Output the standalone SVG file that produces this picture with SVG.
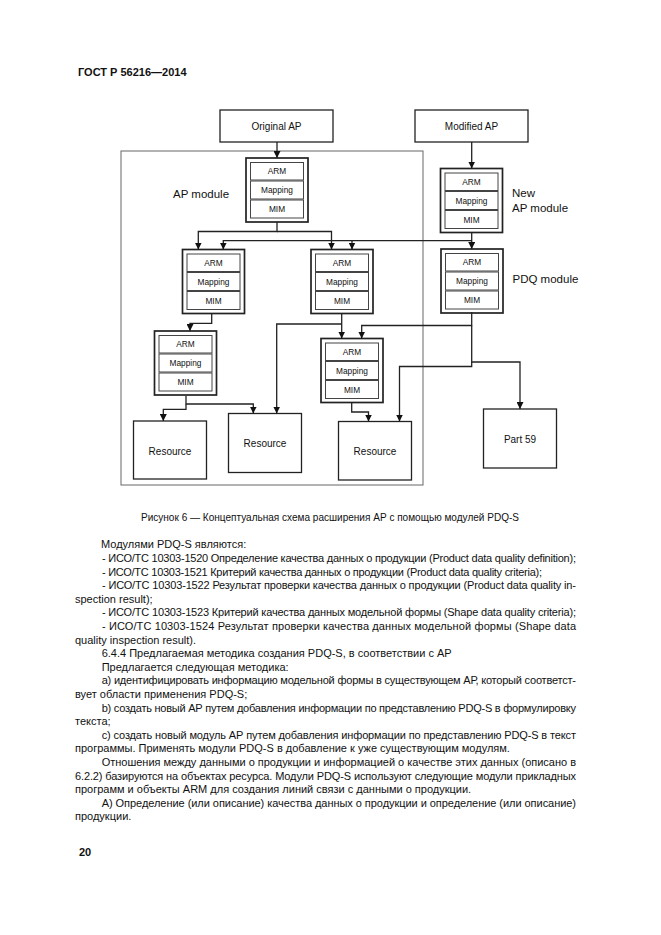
<svg xmlns="http://www.w3.org/2000/svg" width="661" height="935" viewBox="0 0 661 935">
<style>
text{font-family:"Liberation Sans",Arial,sans-serif;fill:#111}
.hd{font-size:11px;font-weight:bold}
.bt{font-size:11px}
.box{fill:#fff;stroke:#222;stroke-width:1.3}
.mod{fill:#fff;stroke:#222;stroke-width:1.7}
.in{fill:#fff;stroke:#444;stroke-width:1}
.frame{fill:none;stroke:#666;stroke-width:1}
.lbl{font-size:10px;text-anchor:middle}
.sm{font-size:8.3px;text-anchor:middle}
.big{font-size:11.5px}
.con{fill:none;stroke:#222;stroke-width:1.3}
</style>
<defs>
<marker id="ah" viewBox="0 0 10 10" refX="10" refY="5" markerWidth="7" markerHeight="7" markerUnits="userSpaceOnUse" orient="auto">
<path d="M0,0 L10,5 L0,10 z" fill="#111"/>
</marker>
<g id="modtpl">
<rect class="mod" x="0" y="0" width="62" height="64"/>
<rect class="in" x="4.5" y="4.5" width="53" height="17.5"/>
<rect class="in" x="4.5" y="23" width="53" height="18"/>
<rect class="in" x="4.5" y="42" width="53" height="18"/>
<text class="sm" x="31" y="16.2">ARM</text>
<text class="sm" x="31" y="35">Mapping</text>
<text class="sm" x="31" y="54">MIM</text>
</g>
</defs>
<rect width="661" height="935" fill="#fff"/>
<text class="hd" x="78" y="76">ГОСТ Р 56216—2014</text>

<rect id="frame" class="frame" x="121" y="151" width="302" height="334"/>

<g id="original-ap"><rect class="box" x="220" y="110" width="113" height="32"/><text class="lbl" x="276.5" y="130">Original AP</text></g>
<g id="modified-ap"><rect class="box" x="415" y="110" width="113" height="32"/><text class="lbl" x="471.5" y="130">Modified AP</text></g>

<g id="ap-module"><use href="#modtpl" x="246" y="158"/><text class="big" x="173" y="197.5">AP module</text></g>
<g id="new-ap-module"><use href="#modtpl" x="440.5" y="168.5"/><text class="big" x="512" y="197">New</text><text class="big" x="512" y="211.5">AP module</text></g>
<g id="module-a"><use href="#modtpl" x="182.5" y="249.5"/></g>
<g id="module-b"><use href="#modtpl" x="311" y="249.5"/></g>
<g id="pdq-module"><use href="#modtpl" x="441" y="249"/><text class="big" x="512.5" y="282.5">PDQ module</text></g>
<g id="module-c"><use href="#modtpl" x="154.5" y="331"/></g>
<g id="module-d"><use href="#modtpl" x="321" y="338.5"/></g>

<g id="resource-1"><rect class="box" x="133.5" y="421" width="73" height="58"/><text class="lbl" x="170" y="454.5">Resource</text></g>
<g id="resource-2"><rect class="box" x="228.5" y="413.5" width="73" height="59"/><text class="lbl" x="265" y="447">Resource</text></g>
<g id="resource-3"><rect class="box" x="338.5" y="421.5" width="73" height="58.5"/><text class="lbl" x="375" y="455">Resource</text></g>
<g id="part-59"><rect class="box" x="483.5" y="409" width="73" height="59"/><text class="lbl" x="520" y="442.5">Part 59</text></g>

<g id="connectors">
<path class="con" marker-end="url(#ah)" d="M277,142 V158"/>
<path class="con" marker-end="url(#ah)" d="M471.7,142 V168.5"/>
<path class="con" marker-end="url(#ah)" d="M277,222 V231.5 H198.3 V249.5"/>
<path class="con" marker-end="url(#ah)" d="M277,231.5 H331.5 V249.5"/>
<path class="con" marker-end="url(#ah)" d="M471.7,232.5 V249"/>
<path class="con" marker-end="url(#ah)" d="M471.7,240.7 H223.3 V249.5"/>
<path class="con" marker-end="url(#ah)" d="M352,240.7 V249.5"/>
<path class="con" marker-end="url(#ah)" d="M211.7,313.5 V323.3 H190 V331"/>
<path class="con" marker-end="url(#ah)" d="M341.7,313.5 V338.5"/>
<path class="con" marker-end="url(#ah)" d="M341.7,324 H276.7 V413.5"/>
<path class="con" marker-end="url(#ah)" d="M471.7,312 V325.5 H361.7 V338.5"/>
<path class="con" marker-end="url(#ah)" d="M471.7,325.5 V362 H520 V409"/>
<path class="con" marker-end="url(#ah)" d="M471.7,362 V366.5 H399.5 V421.5"/>
<path class="con" marker-end="url(#ah)" d="M186,396 V404 H253.3 V413.5"/>
<path class="con" marker-end="url(#ah)" d="M186,404 V409.3 H163.3 V421"/>
<path class="con" marker-end="url(#ah)" d="M351.7,402.5 V412 H368.5 V421.5"/>
</g>

<text class="bt" x="141" y="521" textLength="378" lengthAdjust="spacingAndGlyphs">Рисунок 6 — Концептуальная схема расширения АР с помощью модулей PDQ-S</text>

<g id="body">
<text class="bt" x="101" y="548.3">Модулями PDQ-S являются:</text>
<text class="bt" x="102" y="561.9" textLength="474" lengthAdjust="spacing">- ИСО/ТС 10303-1520 Определение качества данных о продукции (Product data quality definition);</text>
<text class="bt" x="102" y="575.5" textLength="440" lengthAdjust="spacing">- ИСО/ТС 10303-1521 Критерий качества данных о продукции (Product data quality criteria);</text>
<text class="bt" x="102" y="589.1" textLength="474" lengthAdjust="spacing">- ИСО/ТС 10303-1522 Результат проверки качества данных о продукции (Product data quality in-</text>
<text class="bt" x="75" y="602.7">spection result);</text>
<text class="bt" x="102" y="616.3" textLength="474" lengthAdjust="spacing">- ИСО/ТС 10303-1523 Критерий качества данных модельной формы (Shape data quality criteria);</text>
<text class="bt" x="102" y="629.9" textLength="474" lengthAdjust="spacing">- ИСО/ТС 10303-1524 Результат проверки качества данных модельной формы (Shape data</text>
<text class="bt" x="75" y="643.5">quality inspection result).</text>
<text class="bt" x="101.7" y="657.1">6.4.4 Предлагаемая методика создания PDQ-S, в соответствии с АР</text>
<text class="bt" x="101.7" y="670.7">Предлагается следующая методика:</text>
<text class="bt" x="101.7" y="684.3" textLength="474.3" lengthAdjust="spacing">а) идентифицировать информацию модельной формы в существующем АР, который соответст-</text>
<text class="bt" x="75" y="697.9">вует области применения PDQ-S;</text>
<text class="bt" x="101.7" y="711.5" textLength="474.3" lengthAdjust="spacing">b) создать новый АР путем добавления информации по представлению PDQ-S в формулировку</text>
<text class="bt" x="75" y="725.1">текста;</text>
<text class="bt" x="101.7" y="738.7" textLength="474.3" lengthAdjust="spacing">с) создать новый модуль АР путем добавления информации по представлению PDQ-S в текст</text>
<text class="bt" x="75" y="752.3">программы. Применять модули PDQ-S в добавление к уже существующим модулям.</text>
<text class="bt" x="101.7" y="765.9" textLength="474.3" lengthAdjust="spacing">Отношения между данными о продукции и информацией о качестве этих данных (описано в</text>
<text class="bt" x="75" y="779.5" textLength="501" lengthAdjust="spacing">6.2.2) базируются на объектах ресурса. Модули PDQ-S используют следующие модули прикладных</text>
<text class="bt" x="75" y="793.1">программ и объекты ARM для создания линий связи с данными о продукции.</text>
<text class="bt" x="101.7" y="806.7" textLength="474.3" lengthAdjust="spacing">А) Определение (или описание) качества данных о продукции и определение (или описание)</text>
<text class="bt" x="75" y="820.3">продукции.</text>
</g>

<text class="hd" x="79" y="856">20</text>
</svg>
